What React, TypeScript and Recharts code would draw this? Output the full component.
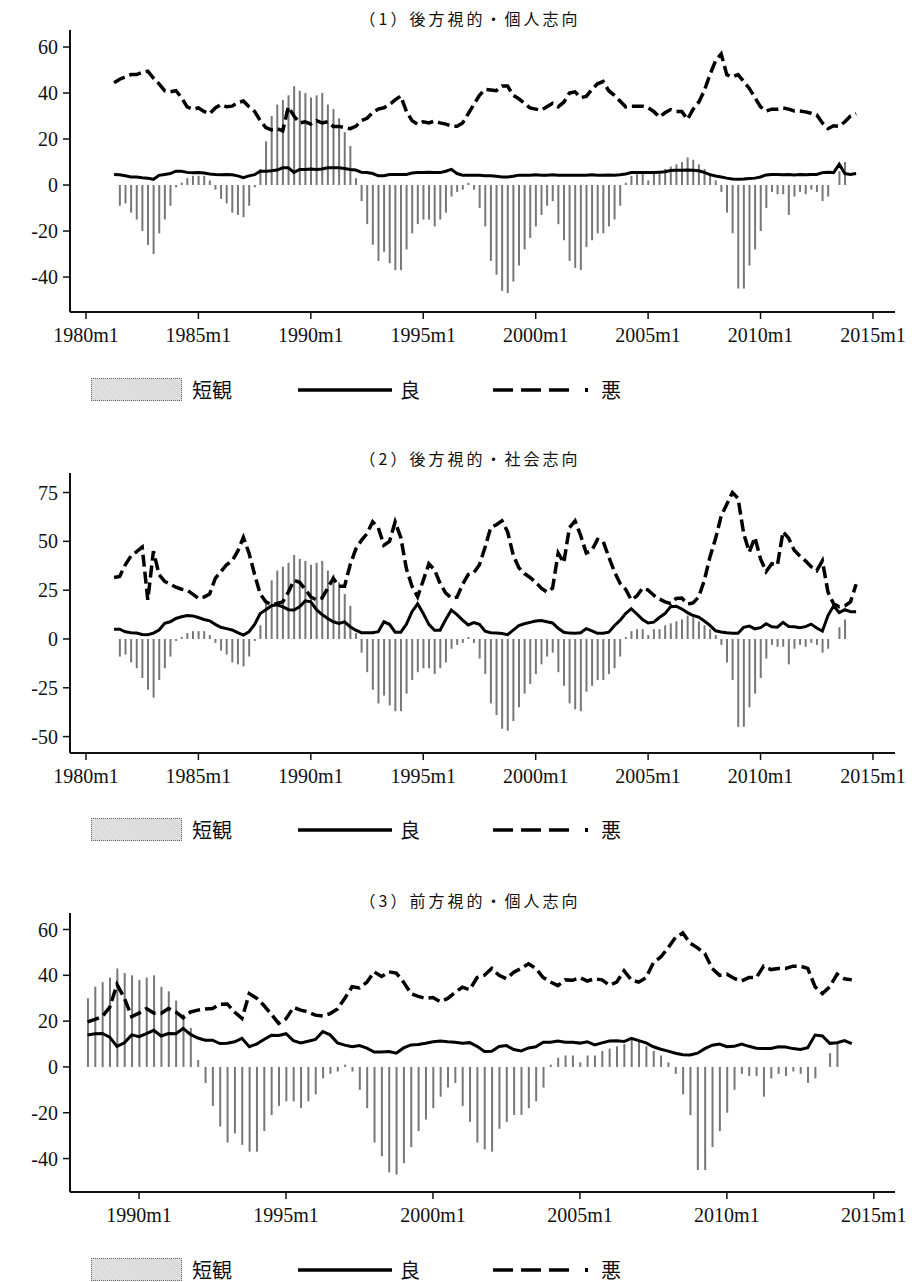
import React from "react";
import { ComposedChart, Bar, Line, XAxis, YAxis } from "recharts";

// quarterly grid, 1981m4 .. 2014m4
const GRID_START = 1981.25;
const quarters = Array.from({ length: 133 }, (_, i) => GRID_START + i * 0.25);

// 短観 (from 1981m7)
const tankan = [
  -9, -8, -12, -15, -20, -26, -30, -21, -15, -9, -1, 1, 3, 4, 4, 4, 2, -2, -6, -8,
  -12, -13, -14, -9, -1, 7, 19, 30, 35, 37, 39, 43, 41, 40, 38, 39, 40, 35, 33, 29,
  23, 17, 3, -7, -17, -26, -33, -29, -34, -37, -37, -28, -21, -17, -15, -15, -18, -15, -12, -5,
  -3, -2, 1, -2, -10, -18, -33, -39, -46, -47, -42, -35, -28, -23, -18, -13, -9, -7, -17, -24,
  -33, -36, -37, -27, -24, -21, -21, -18, -15, -9, 1, 4, 5, 5, 2, 5, 5, 7, 8, 9,
  10, 12, 11, 9, 7, 5, 2, -3, -12, -21, -45, -45, -35, -28, -20, -10, -3, -4, -4, -13,
  -5, -3, -4, -2, -3, -7, -5, 0, 6, 10,
];

// (1) 後方視的・個人志向
const good1 = [
  4.6, 4.5, 4, 3.5, 3.5, 3.2, 3, 2.5, 4.2, 4.6, 5, 6, 6, 5.5, 5.3, 5.4, 5.2, 4.8, 4.6, 4.5,
  4.6, 4.5, 4, 3.2, 4, 4.5, 6, 6, 6.2, 6.5, 7.5, 7.5, 5.5, 6.8, 6.8, 7, 6.8, 7, 7.5, 7.5,
  7.5, 7.2, 6.8, 6.5, 5.5, 5.4, 5, 4, 4, 4.6, 4.6, 4.6, 4.6, 5.2, 5.4, 5.4, 5.6, 5.4, 5.4, 6,
  6.8, 5, 4.3, 4.3, 4.3, 4.3, 4, 4, 3.8, 3.5, 3.5, 3.8, 4.3, 4.3, 4.3, 4.5, 4.3, 4.3, 4.5, 4.3,
  4.3, 4.3, 4.2, 4.3, 4.3, 4.5, 4.3, 4.3, 4.4, 4.3, 4.5, 4.8, 5.4, 5.5, 5.4, 5.4, 5.4, 5.6, 5.8, 6.3,
  6.4, 6.4, 6.5, 6.4, 6.2, 5.5, 4.5, 3.9, 3.5, 3, 2.6, 2.5, 2.6, 2.8, 3, 3.5, 4.4, 4.6, 4.6, 4.5,
  4.6, 4.4, 4.6, 4.5, 4.6, 4.6, 5.4, 5.6, 5.4, 9, 5, 4.6, 5,
];
const bad1 = [
  44.5, 46, 47, 48, 48, 49, 49.5, 46.5, 44, 41, 40.5, 41, 38, 34, 33, 33.5, 32, 31, 33.5, 35,
  34, 34.3, 35.8, 36.5, 34, 32, 28, 25, 24, 24.5, 23.5, 34, 30, 27, 27.5, 26.5, 28, 27, 27.5, 25.5,
  25.5, 25, 24.5, 25.5, 28, 29, 31.5, 33, 33.6, 35, 37, 38.7, 32, 28, 26.4, 27.5, 27, 27.8, 27, 26.5,
  25.6, 25.6, 27, 31, 35, 39, 41.6, 41.3, 41, 43, 43, 39, 37.5, 35.5, 33.5, 33, 32.5, 34, 35.5, 34,
  36, 40, 40.5, 38, 38.5, 41.5, 44, 45, 41, 39, 36.5, 34, 34.3, 34.3, 34.3, 33.6, 32, 29.5, 31.4, 32.8,
  32, 32, 28.5, 33, 36, 41, 48, 54, 57, 48, 47, 48, 45, 42, 38, 34, 32.2, 33, 33, 33.5,
  33, 32.2, 32.2, 31.8, 31.2, 30.5, 27, 24.5, 25.8, 25.5, 27.5, 30, 31,
];

// (2) 後方視的・社会志向
const good2 = [
  5, 5, 3.7, 3.2, 3, 2.3, 2.2, 3, 4.6, 8, 8.8, 10.5, 11.4, 12, 11.8, 11, 10, 9.3, 7.5, 6,
  5.3, 4.6, 3.2, 2, 3.7, 7.5, 13, 15, 17, 17.5, 16.5, 15, 14.8, 16.5, 19.5, 19, 15, 12.5, 10.5, 8.8,
  8, 8.8, 6.3, 4.5, 3.2, 3.2, 3.2, 3.7, 8.8, 7.5, 3.5, 3.5, 7.5, 14, 18, 13, 7.5, 4.5, 4.5, 10,
  14.8, 12.5, 9.7, 7.2, 8.4, 7.5, 4, 3.2, 3.1, 2.8, 2.2, 4.5, 6.8, 7.8, 8.5, 9.2, 9.5, 8.8, 8.2, 5.5,
  3.4, 3, 2.9, 3.2, 5.3, 4.2, 2.9, 2.9, 3.5, 6.8, 9.5, 13, 15.5, 12.8, 10, 8.2, 8.6, 11, 13, 16.5,
  16.8, 15.3, 13.5, 12, 11.2, 9.2, 7, 4.2, 3.6, 3.2, 2.9, 2.9, 6, 6.6, 5.2, 5.8, 7.8, 6.2, 6, 8.5,
  6.4, 6.3, 5.7, 6.3, 7.6, 5.6, 4, 12, 17, 13.5, 15, 14, 14,
];
const bad2 = [
  31.5, 32, 38, 42.5, 44.7, 47, 20, 45, 33, 29.5, 28, 26.5, 25.5, 25, 23, 20.8, 21.5, 23, 31, 34.5,
  38, 40, 45, 52, 44, 33, 23, 19, 17.5, 18.2, 19, 24, 30, 29, 25.5, 21.5, 20, 21, 26, 31,
  27, 27, 38, 46, 50.5, 54, 60, 57, 48, 50, 60, 52, 36, 27, 21.6, 30, 38.5, 35.5, 28.4, 23.5,
  21, 21.4, 28, 33, 34, 38, 47, 57, 58.5, 60.5, 55, 43, 36.5, 33.5, 31.5, 29, 26, 24, 26, 44,
  39, 57, 60.5, 53, 44, 45.4, 51, 50, 42, 34.5, 28.5, 25.5, 20, 22, 26, 25, 22.4, 20.5, 19, 18.2,
  20.8, 21, 17.8, 18.5, 21.5, 30, 42, 51.4, 63, 69, 75, 72, 54, 44.5, 52, 41, 34.5, 38.5, 37.8, 55,
  51.6, 45.4, 42.5, 40, 37, 35, 40, 24, 18, 16.5, 17, 19, 28,
];

// (3) 前方視的・個人志向 (from 1988m4)
const P3_START = 28;
const good3 = [
  13.9, 14.5, 14.6, 13, 9, 10.5, 14, 13.2, 14.5, 16, 13.5, 14.6, 14.5, 16.8, 14.2, 12.6, 11.7, 11.7, 10.2, 10.3,
  11, 12.5, 8.8, 10, 12, 13.8, 13.7, 14.5, 11.5, 10.5, 11.2, 12, 15.4, 14, 10.5, 9.5, 8.8, 9.3, 8.2, 6.5,
  6.5, 6.7, 6, 8.3, 9.6, 9.8, 10.3, 11, 11.3, 11, 10.8, 10.3, 10.6, 9, 6.7, 6.8, 8.9, 9.3, 7.6, 7,
  8.3, 8.8, 10.8, 10.8, 11.3, 10.8, 10.8, 10.4, 11, 9.6, 10.5, 11.3, 11.4, 11.1, 12.5, 11.5, 10.5, 8.8, 7.7, 6.9,
  6, 5.3, 5.2, 6, 8, 9.5, 10, 8.8, 9, 10, 9, 8.2, 8.1, 8.1, 8.8, 8.7, 8, 7.6, 8.4, 13.9,
  13.5, 10.3, 10.6, 11.5, 10.2,
];
const bad3 = [
  19.7, 20.8, 22, 26, 36, 30, 22, 23.5, 25.5, 23.5, 23.3, 25.5, 24, 21.5, 24, 24.8, 25.3, 25.5, 27.3, 27.5,
  24, 21.2, 32, 30, 26.8, 23, 19, 21, 26, 24.8, 24, 22.6, 22.2, 23.3, 25.3, 30, 35, 34.5, 37, 41.5,
  39.5, 41.5, 41, 37, 32, 30.8, 29.9, 30.3, 28.5, 29.9, 32.5, 34.8, 33.7, 39, 40, 43, 40, 38.5, 41.4, 43,
  45, 43, 39, 37.1, 35.5, 38, 37.8, 39, 37.5, 38.5, 38, 35.7, 37, 42, 38, 37, 39, 45.5, 48, 52,
  56.5, 58.5, 54, 52, 49.5, 43, 40, 40.5, 38.6, 37.5, 39, 39, 44, 42.5, 43, 43, 44, 44, 43, 35,
  32, 35, 40.5, 38.5, 38,
];

const yearTicks1 = [1980, 1985, 1990, 1995, 2000, 2005, 2010, 2015];
const yearTicks3 = [1990, 1995, 2000, 2005, 2010, 2015];

function buildRows(start: number, good: number[], bad: number[]) {
  return good.map((g, i) => {
    const gi = start + i;
    const tk = tankan[gi - 1];
    return { t: quarters[gi], tankan: tk === undefined ? null : tk, good: g, bad: bad[i] };
  });
}

const rows1 = buildRows(0, good1, bad1);
const rows2 = buildRows(0, good2, bad2);
const rows3 = buildRows(P3_START, good3, bad3);

const serif = '"Liberation Serif", "DejaVu Serif", serif';
const cjk = '"Noto Sans CJK JP", "Noto Sans CJK SC", sans-serif';

function Panel({ top, rows, xDomain, xTicks, yDomain, yTicks, plotHeight }: any) {
  return (
    <div style={{ position: "absolute", top, left: 0 }}>
      <ComposedChart
        width={918}
        height={30 + plotHeight + 40}
        data={rows}
        margin={{ top: 30, right: 23, bottom: 0, left: 0 }}
      >
        <XAxis
          type="number"
          dataKey="t"
          domain={xDomain}
          ticks={xTicks}
          interval={0}
          allowDataOverflow
          height={40}
          tickFormatter={(v: number) => `${v}m1`}
          tick={{ fill: "#111", fontSize: 20, fontFamily: serif }}
          tickSize={7}
          tickMargin={9}
          axisLine={{ stroke: "#111", strokeWidth: 2 }}
          tickLine={{ stroke: "#111", strokeWidth: 1.5 }}
        />
        <YAxis
          type="number"
          domain={yDomain}
          ticks={yTicks}
          interval={0}
          allowDataOverflow
          width={70}
          tick={{ fill: "#111", fontSize: 20, fontFamily: serif }}
          tickSize={7}
          tickMargin={5}
          axisLine={{ stroke: "#111", strokeWidth: 2 }}
          tickLine={{ stroke: "#111", strokeWidth: 1.5 }}
        />
        <Bar dataKey="tankan" fill="#777" barSize={2} isAnimationActive={false} />
        <Line
          type="linear"
          dataKey="good"
          stroke="#000"
          strokeWidth={3}
          dot={false}
          activeDot={false}
          isAnimationActive={false}
        />
        <Line
          type="linear"
          dataKey="bad"
          stroke="#000"
          strokeWidth={3.5}
          strokeDasharray="12 5"
          dot={false}
          activeDot={false}
          isAnimationActive={false}
        />
      </ComposedChart>
    </div>
  );
}

function Title({ y, text }: { y: number; text: string }) {
  return (
    <div
      style={{
        position: "absolute",
        top: y - 10,
        left: 470,
        transform: "translateX(-50%)",
        fontFamily: cjk,
        fontSize: 16,
        lineHeight: "20px",
        letterSpacing: 3,
        whiteSpace: "nowrap",
        color: "#111",
      }}
    >
      {text}
    </div>
  );
}

function LegendRow({ y }: { y: number }) {
  const txt: React.CSSProperties = {
    position: "absolute",
    top: y - 12,
    fontFamily: cjk,
    fontSize: 20,
    lineHeight: "24px",
    color: "#111",
  };
  return (
    <>
      <div
        style={{
          position: "absolute",
          top: y - 12,
          left: 91,
          width: 91,
          height: 23,
          boxSizing: "border-box",
          border: "1px dotted #666",
          background:
            "repeating-linear-gradient(45deg, #cfcfcf 0px, #e6e6e6 2px, #d4d4d4 3px, #ececec 5px)",
        }}
      />
      <div style={{ ...txt, left: 192 }}>短観</div>
      <svg style={{ position: "absolute", top: y - 3, left: 298 }} width={94} height={6}>
        <line x1={0} y1={3} x2={94} y2={3} stroke="#000" strokeWidth={3.5} />
      </svg>
      <div style={{ ...txt, left: 400 }}>良</div>
      <svg style={{ position: "absolute", top: y - 3, left: 493 }} width={98} height={6}>
        <line x1={0} y1={3} x2={82} y2={3} stroke="#000" strokeWidth={3.5} strokeDasharray="20 8" />
        <rect x={92} y={1} width={3} height={4} fill="#000" />
      </svg>
      <div style={{ ...txt, left: 601 }}>悪</div>
    </>
  );
}

export default function App() {
  return (
    <div style={{ position: "relative", width: 918, height: 1282, background: "#fff" }}>
      <style>{`body{margin:0;background:#fff}`}</style>
      <Title y={18} text="（1）後方視的・個人志向" />
      <Panel
        top={0}
        rows={rows1}
        xDomain={[1979.29, 2015.98]}
        xTicks={yearTicks1}
        yDomain={[-55.2, 67.4]}
        yTicks={[-40, -20, 0, 20, 40, 60]}
        plotHeight={282}
      />
      <LegendRow y={390} />

      <Title y={458} text="（2）後方視的・社会志向" />
      <Panel
        top={443}
        rows={rows2}
        xDomain={[1979.29, 2015.98]}
        xTicks={yearTicks1}
        yDomain={[-58.4, 85]}
        yTicks={[-50, -25, 0, 25, 50, 75]}
        plotHeight={280}
      />
      <LegendRow y={830} />

      <Title y={900} text="（3）前方視的・個人志向" />
      <Panel
        top={883}
        rows={rows3}
        xDomain={[1987.65, 2015.72]}
        xTicks={yearTicks3}
        yDomain={[-54.6, 67.2]}
        yTicks={[-40, -20, 0, 20, 40, 60]}
        plotHeight={279}
      />
      <LegendRow y={1270} />
    </div>
  );
}
